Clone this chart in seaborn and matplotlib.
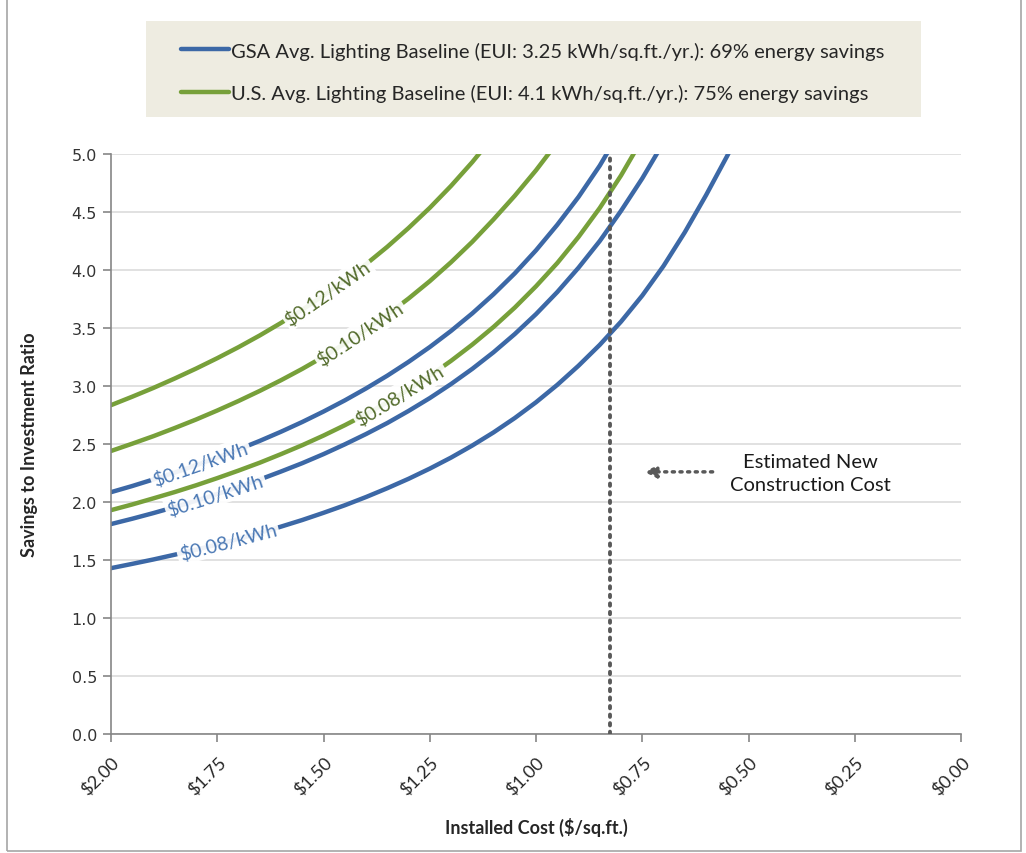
import numpy as np
import pandas as pd
import matplotlib
matplotlib.use("Agg")
import matplotlib.pyplot as plt
import seaborn as sns

# Installed cost ($/sq.ft.) steps and savings-to-investment ratio
cost_steps = [2.0, 1.95, 1.9, 1.85, 1.8, 1.75, 1.7, 1.65, 1.6, 1.55, 1.5, 1.45, 1.4, 1.35, 1.3,
              1.25, 1.2, 1.15, 1.1, 1.05, 1.0, 0.95, 0.9, 0.85, 0.8, 0.75, 0.7, 0.65, 0.6, 0.55, 0.5]
sir_gsa_08 = [1.43, 1.467, 1.505, 1.546, 1.589, 1.634, 1.682, 1.733, 1.788, 1.845, 1.907, 1.972,
              2.043, 2.119, 2.20, 2.288, 2.383, 2.487, 2.60, 2.724, 2.86, 3.01, 3.175, 3.355,
              3.555, 3.78, 4.035, 4.325, 4.645, 4.985, 5.35]
sir_gsa_10 = [1.81, 1.856, 1.905, 1.957, 2.011, 2.069, 2.129, 2.194, 2.263, 2.335, 2.413, 2.497,
              2.586, 2.681, 2.785, 2.896, 3.017, 3.148, 3.291, 3.448, 3.62, 3.81, 4.02, 4.25,
              4.51, 4.79, 5.10]
sir_gsa_12 = [2.085, 2.138, 2.195, 2.254, 2.317, 2.383, 2.453, 2.527, 2.606, 2.69, 2.78, 2.876,
              2.979, 3.089, 3.208, 3.336, 3.475, 3.626, 3.791, 3.971, 4.17, 4.39, 4.63, 4.90, 5.21]
sir_us_08 = [1.93, 1.979, 2.032, 2.086, 2.144, 2.206, 2.271, 2.339, 2.413, 2.49, 2.573, 2.662,
             2.757, 2.859, 2.969, 3.088, 3.217, 3.357, 3.509, 3.676, 3.86, 4.06, 4.285, 4.535,
             4.815, 5.13]
sir_us_10 = [2.44, 2.503, 2.568, 2.638, 2.711, 2.789, 2.871, 2.958, 3.05, 3.148, 3.253, 3.366,
             3.486, 3.615, 3.754, 3.904, 4.067, 4.243, 4.436, 4.64, 4.86, 5.10]
sir_us_12 = [2.835, 2.908, 2.984, 3.065, 3.15, 3.24, 3.335, 3.436, 3.544, 3.658, 3.78, 3.91,
             4.05, 4.20, 4.362, 4.536, 4.725, 4.93, 5.155]

rate_labels = ["$0.08/kWh", "$0.10/kWh", "$0.12/kWh"]
label_cost_gsa = [1.725, 1.755, 1.79]
label_cost_us = [1.32, 1.414, 1.49]
new_construction_cost = 0.825

legend_gsa = "GSA Avg. Lighting Baseline (EUI: 3.25 kWh/sq.ft./yr.): 69% energy savings"
legend_us = "U.S. Avg. Lighting Baseline (EUI: 4.1 kWh/sq.ft./yr.): 75% energy savings"

blue = "#3C68A6"
green = "#77A03A"
blue_txt = "#4A78B4"
green_txt = "#536B2C"

sns.set_style("white")
plt.rcParams['font.family'] = ['Lato', 'DejaVu Sans']

fig = plt.figure(figsize=(10.26, 8.54), dpi=100)
ax = fig.add_axes([0.1082, 0.1393, 0.8285, 0.6792])

gsa = [sir_gsa_08, sir_gsa_10, sir_gsa_12]
us = [sir_us_08, sir_us_10, sir_us_12]

for i, s in enumerate(gsa):
    df = pd.DataFrame({"cost": cost_steps[:len(s)], "sir": s})
    sns.lineplot(data=df, x="cost", y="sir", ax=ax, color=blue, lw=3.2, sort=False,
                 solid_joinstyle="round", label=legend_gsa if i == 0 else None, legend=False)
for i, s in enumerate(us):
    df = pd.DataFrame({"cost": cost_steps[:len(s)], "sir": s})
    sns.lineplot(data=df, x="cost", y="sir", ax=ax, color=green, lw=3.2, sort=False,
                 solid_joinstyle="round", label=legend_us if i == 0 else None, legend=False)

ax.set_xlim(2.0, 0.0)
ax.set_ylim(0, 5.0)
ax.set_xticks(np.arange(0, 2.01, 0.25))
ax.set_xticklabels(["$%.2f" % v for v in np.arange(0, 2.01, 0.25)],
                   rotation=45, ha="right", rotation_mode="anchor", fontsize=13)
ax.set_yticks(np.arange(0, 5.01, 0.5))
ax.set_yticklabels(["%.1f" % v for v in np.arange(0, 5.01, 0.5)],
                   fontsize=11.5, family="DejaVu Sans", color="#333333")
ax.yaxis.grid(True, color="#D9D9D9", lw=1.1)
ax.xaxis.grid(False)
for side in ["top", "right"]:
    ax.spines[side].set_visible(False)
for side in ["left", "bottom"]:
    ax.spines[side].set_color("#868686")
    ax.spines[side].set_linewidth(1.2)
ax.tick_params(axis="both", which="both", direction="out", length=6, width=1.2,
               color="#868686", bottom=True, left=True, pad=4)
ax.tick_params(axis="x", pad=8)
ax.set_xlabel("Installed Cost ($/sq.ft.)", fontsize=13, fontweight="bold", labelpad=14)
ax.set_ylabel("Savings to Investment Ratio", fontsize=13, fontweight="bold", labelpad=24)

# estimated new construction cost marker
ax.plot([new_construction_cost, new_construction_cost], [0, 5.0], color="#595959",
        lw=2.8, ls=(0, (0.6, 1.6)), dash_capstyle="round", zorder=5)
ax.annotate("", xy=(0.752, 2.26), xytext=(0.578, 2.26),
            arrowprops=dict(arrowstyle="-|>,head_length=0.7,head_width=0.35",
                            color="#595959", lw=2.5, ls=(0, (0.6, 1.6))))
ax.text(0.355, 2.25, "Estimated New\nConstruction Cost", ha="center", va="center",
        fontsize=14.5, color="#1a1a1a", linespacing=1.4)

# inline rate labels, rotated along each curve
def label_curve(s, at, txt, color):
    xs = np.array(cost_steps[:len(s)])[::-1]
    ys = np.array(s)[::-1]
    y0 = np.interp(at, xs, ys)
    p1 = ax.transData.transform((at + 0.03, np.interp(at + 0.03, xs, ys)))
    p2 = ax.transData.transform((at - 0.03, np.interp(at - 0.03, xs, ys)))
    ang = np.degrees(np.arctan2(p2[1] - p1[1], p2[0] - p1[0]))
    ax.text(at, y0, txt, ha="center", va="center", rotation=ang, fontsize=14,
            color=color, zorder=6,
            bbox=dict(boxstyle="square,pad=0.12", fc="white", ec="none", alpha=0.92))

for s, at, txt in zip(gsa, label_cost_gsa, rate_labels):
    label_curve(s, at, txt, blue_txt)
for s, at, txt in zip(us, label_cost_us, rate_labels):
    label_curve(s, at, txt, green_txt)

# legend on a tan background block above the plot
fig.patches.append(plt.Rectangle((146 / 1026, 1 - 118 / 854), 775 / 1026, 96 / 854,
                                 transform=fig.transFigure, fc="#EEECE1", ec="none", zorder=0))
handles, labels = ax.get_legend_handles_labels()
leg = fig.legend(handles, labels, loc="center", bbox_to_anchor=(0.5195, 0.915),
                 fontsize=14.5, frameon=False, handlelength=2.4, handletextpad=0.1,
                 labelspacing=1.2, borderpad=0, borderaxespad=0)

# outer chart border
fig.patches.append(plt.Rectangle((0.007, 0.002), 0.988, 1.2, transform=fig.transFigure,
                                 fill=False, ec="#A6A6A6", lw=1.2))

fig.savefig("out.png", dpi=100)
